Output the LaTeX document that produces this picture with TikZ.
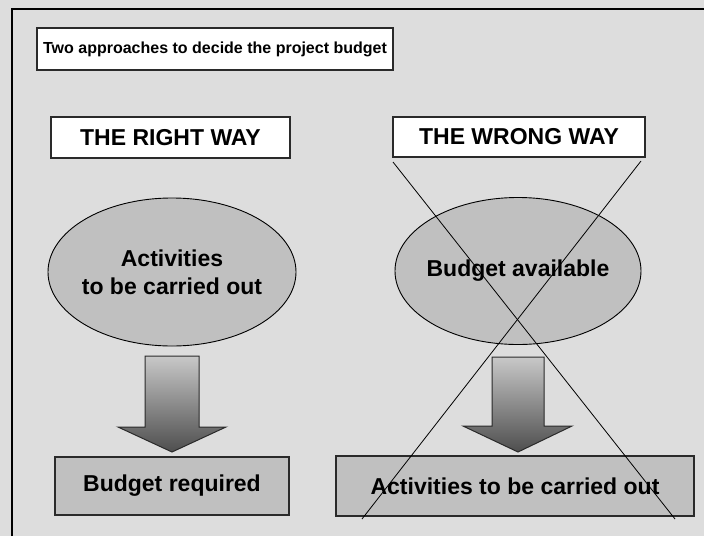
\documentclass[tikz,border=0pt]{standalone}
\usepackage{fontspec}
\setmainfont{Liberation Sans}
\usetikzlibrary{shapes.geometric}
\definecolor{bg}{HTML}{DDDDDD}
\definecolor{fillgray}{HTML}{C0C0C0}
\definecolor{edgegray}{HTML}{2A2A2A}
\definecolor{arrtop}{HTML}{C8C8C8}
\definecolor{arrbot}{HTML}{4E4E4E}
\newcommand{\zw}[1]{\makebox[0pt]{#1}}
\begin{document}
\begin{tikzpicture}[x=1pt,y=-1pt,
  whitebox/.style={draw=edgegray,line width=1.3pt,fill=white,inner sep=0pt,font=\bfseries\fontsize{23}{27}\selectfont},
  titlebox/.style={draw=edgegray,line width=1.3pt,fill=white,inner sep=0pt,font=\bfseries\fontsize{16}{19}\selectfont},
  ellnode/.style={ellipse,draw=black,line width=0.9pt,fill=fillgray,inner sep=0pt,align=center,font=\bfseries\fontsize{23}{28}\selectfont},
  graybox/.style={draw=edgegray,line width=1.3pt,fill=fillgray,inner sep=0pt,font=\bfseries\fontsize{23}{27}\selectfont},
  bigarrow/.style={draw=edgegray,line width=1pt,top color=arrtop,bottom color=arrbot},
  crossline/.style={draw=black,line width=0.8pt}]
\useasboundingbox (0,0) rectangle (704,536);
\fill[bg] (0,0) rectangle (704,536);
\draw[line width=2.5pt] (12,536) -- (12,9) -- (704,9);

\node[titlebox,minimum width=356pt,minimum height=42pt] (title) at (215,49) {Two approaches to decide the project budget};
\node[whitebox,minimum width=239pt,minimum height=41pt] (right) at (170.5,137.5) {THE RIGHT WAY};
\node[whitebox,minimum width=252pt,minimum height=40pt] (wrong) at (519,137) {THE WRONG WAY};

\node[ellnode,minimum width=248pt,minimum height=148pt] (act) at (172,272) {\zw{Activities}\\\zw{to be carried out}};
\node[ellnode,minimum width=246pt,minimum height=147pt] (avail) at (518,271) {\zw{Budget available}};

\node[graybox,minimum width=234pt,minimum height=58pt] (req) at (172,486) {Budget required};
\node[graybox,minimum width=358pt,minimum height=60pt] (act2) at (515,486) {Activities to be carried out};

\shadedraw[bigarrow] (145,356) -- (199,356) -- (199,427) -- (226,427) -- (172,452) -- (118,427) -- (145,427) -- cycle;
\shadedraw[bigarrow] (492,357) -- (544,357) -- (544,426) -- (572,426) -- (518,452) -- (463,426) -- (492,426) -- cycle;

\coordinate (c1a) at (393,162);
\coordinate (c1b) at (675,519);
\coordinate (c2a) at (641,161);
\coordinate (c2b) at (362,519);
\draw[crossline] (c1a) -- (c1b);
\draw[crossline] (c2a) -- (c2b);
\end{tikzpicture}
\end{document}
